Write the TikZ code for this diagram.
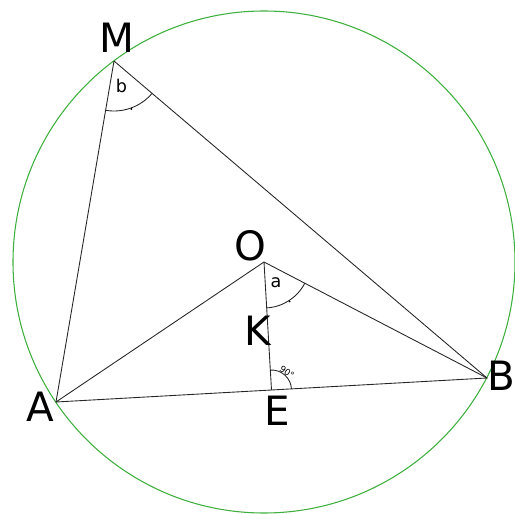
\documentclass[tikz,border=0pt]{standalone}
\usepackage{fontspec}
\setmainfont{DejaVu Sans}
\usetikzlibrary{calc,positioning}
\definecolor{circgreen}{RGB}{60,175,60}
\tikzset{
  edge/.style={draw=black!85, line width=0.5pt},
  circ/.style={draw=circgreen, line width=0.6pt},
  angarc/.style={draw=black!85, line width=0.5pt},
  ptlabel/.style={font=\fontsize{23}{26}\selectfont, inner sep=0pt},
  anglabel/.style={font=\fontsize{10}{12}\selectfont, inner sep=0pt},
  tiny/.style={font=\fontsize{5}{6}\selectfont, inner sep=0pt}
}
\begin{document}
\begin{tikzpicture}
  \useasboundingbox (0,0) rectangle (10.30,-10.28);
  \coordinate (O) at (5.28,-5.24);
  \coordinate (A) at (1.12,-8.04);
  \coordinate (B) at (9.74,-7.56);
  \coordinate (M) at (2.28,-1.22);
  \coordinate (E) at ($(A)!0.5!(B)$);
  \draw[circ] (O) circle (5.02);
  \draw[edge] (M) -- (A) -- (B) -- (M);
  \draw[edge] (A) -- (O) -- (B);
  \draw[edge] (O) -- (E);
  % angles
  \draw[angarc] ($(M)+(260.3:1)$) arc (260.3:319.6:1);
  \fill ($(M)+(290:1.02)$) circle (0.6pt);
  \draw[angarc] ($(O)+(273.1:0.92)$) arc (273.1:332.5:0.92);
  \fill ($(O)+(303:0.94)$) circle (0.6pt);
  \draw[angarc] ($(E)+(3.4:0.4)$) arc (3.4:93.1:0.4);
  \node[tiny, rotate=-35] (ninety) at (5.74,-7.44) {90°};
  \node[anglabel] (b) at (2.43,-1.72) {b};
  \node[anglabel] (a) at (5.52,-5.66) {a};
  % point labels
  \node[ptlabel] (Mlab) at (2.34,-0.76) {M};
  \node[ptlabel] (Olab) at (5.00,-4.92) {O};
  \node[ptlabel] (Klab) at (5.16,-6.62) {K};
  \node[ptlabel] (Elab) at (5.54,-8.22) {E};
  \node[ptlabel] (Alab) at (0.80,-8.14) {A};
  \node[ptlabel] (Blab) at (10.02,-7.52) {B};
\end{tikzpicture}
\end{document}
